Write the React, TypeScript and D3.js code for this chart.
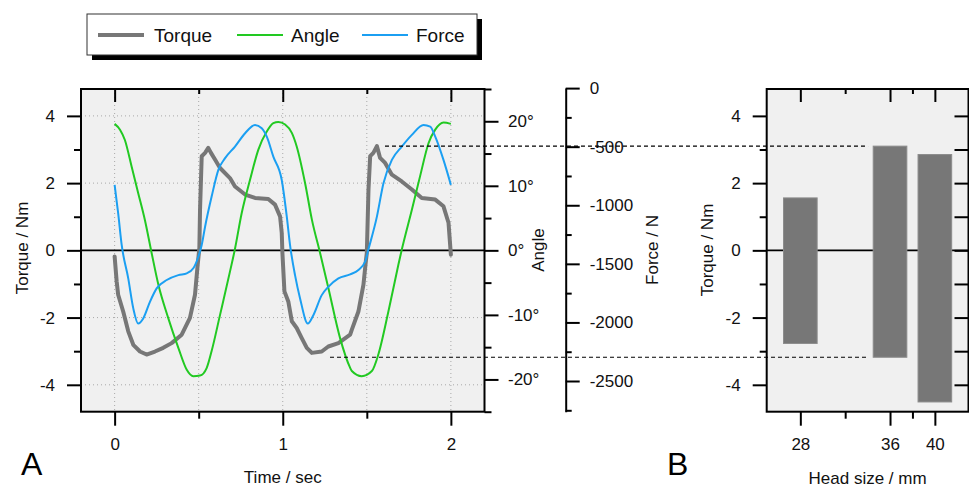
import React, { useEffect, useRef } from "react";
import * as d3 from "d3";

const W = 969;
const H = 489;
const FONT = '"Liberation Sans", Arial, Helvetica, sans-serif';

// Panel A: time series of one recorded motion (two cycles)
const torqueTime = [0, 0.012, 0.021, 0.051, 0.081, 0.111, 0.151, 0.19, 0.24, 0.289, 0.339, 0.399, 0.448, 0.478, 0.494, 0.504, 0.508, 0.518, 0.538, 0.557, 0.573, 0.597, 0.627, 0.686, 0.716, 0.776, 0.835, 0.914, 0.954, 0.984, 0.994, 0.998, 1.01, 1.033, 1.054, 1.083, 1.113, 1.143, 1.173, 1.232, 1.271, 1.331, 1.401, 1.411, 1.45, 1.48, 1.494, 1.5, 1.51, 1.52, 1.539, 1.56, 1.579, 1.609, 1.649, 1.708, 1.768, 1.827, 1.907, 1.956, 1.986, 2.0];
const torqueValues = [-0.18, -0.92, -1.32, -1.82, -2.41, -2.81, -3.01, -3.1, -3.01, -2.9, -2.76, -2.51, -2.01, -1.32, -0.43, 0.07, 1.21, 2.8, 2.9, 3.05, 2.9, 2.7, 2.45, 2.15, 1.9, 1.66, 1.56, 1.53, 1.36, 1.01, 0.52, -0.08, -1.22, -1.52, -2.11, -2.31, -2.61, -2.9, -3.05, -3.01, -2.86, -2.76, -2.51, -2.36, -1.82, -1.02, -0.33, -0.08, 1.81, 2.8, 2.9, 3.1, 2.75, 2.6, 2.25, 2.05, 1.81, 1.56, 1.51, 1.31, 0.82, -0.13];

const angleTime = [0, 0.032, 0.061, 0.101, 0.14, 0.18, 0.22, 0.26, 0.319, 0.379, 0.429, 0.468, 0.508, 0.548, 0.577, 0.627, 0.686, 0.714, 0.756, 0.805, 0.855, 0.905, 0.944, 0.974, 1.014, 1.054, 1.083, 1.133, 1.173, 1.222, 1.271, 1.341, 1.401, 1.411, 1.47, 1.53, 1.569, 1.629, 1.688, 1.707, 1.768, 1.817, 1.867, 1.907, 1.956, 2.0];
const angleValues = [19.6, 18.7, 17.1, 13.0, 8.9, 4.7, -0.4, -5.3, -10.5, -15.1, -18.5, -19.5, -19.4, -18.2, -15.6, -10.0, -3.3, 0, 5.8, 10.9, 15.6, 18.4, 19.7, 19.9, 19.5, 18.2, 16.1, 10.4, 4.8, -0.4, -5.8, -13.6, -18.2, -18.7, -19.5, -18.7, -16.1, -9.4, -2.2, 0, 6.3, 11.5, 16.6, 18.7, 19.8, 19.6];

const forceTime = [0, 0.021, 0.042, 0.081, 0.111, 0.14, 0.17, 0.21, 0.25, 0.31, 0.379, 0.429, 0.468, 0.498, 0.518, 0.538, 0.577, 0.617, 0.657, 0.716, 0.776, 0.835, 0.875, 0.905, 0.944, 0.994, 1.024, 1.043, 1.073, 1.103, 1.149, 1.182, 1.232, 1.271, 1.331, 1.401, 1.45, 1.49, 1.509, 1.56, 1.599, 1.649, 1.708, 1.768, 1.837, 1.877, 1.907, 1.956, 2.0];
const forceValues = [-826, -1068, -1339, -1624, -1880, -2009, -1966, -1824, -1709, -1638, -1596, -1581, -1538, -1439, -1339, -1183, -926, -698, -598, -499, -385, -314, -342, -414, -585, -784, -1097, -1336, -1596, -1795, -2009, -1938, -1767, -1696, -1624, -1590, -1553, -1482, -1380, -1097, -812, -613, -499, -399, -314, -328, -414, -613, -826];

// Panel B: torque range per head size
const headSizes = [28, 36, 40];
const torqueMax = [1.56, 3.1, 2.85];
const torqueMin = [-2.77, -3.18, -4.51];

// Tick values
const torqueMajor = [-4, -2, 0, 2, 4];
const torqueMinor = [-3, -1, 1, 3];
const timeMajor = [0, 1, 2];
const timeMinor = [0.5, 1.5];
const angleMajor = [-20, -10, 0, 10, 20];
const angleMinor = [-25, -15, -5, 5, 15, 25];
const forceMajor = [0, -500, -1000, -1500, -2000, -2500];
const forceMinor = [-250, -750, -1250, -1750, -2250, -2750];
const headMajor = [28, 36, 40];
const headMinor = [32, 38];

const seriesNames = ["Torque", "Angle", "Force"];
const seriesColors = ["#777777", "#22c922", "#1b9ff2"];

// Reference marks linking the second cycle to the 36 mm range
const refStartTime = [1.608, 1.281];
const refEndHead = 34.04;

// plain hyphen-minus labels
const plain = (d: any) => String(d);

export default function App() {
  const ref = useRef<SVGSVGElement>(null);

  useEffect(() => {
    const svg = d3.select(ref.current);
    svg.selectAll("*").remove();

    const A = { l: 81, r: 484.5, t: 89, b: 411.7 };
    const B = { l: 766.7, r: 968.5, t: 89, b: 411.7 };

    const xA = d3.scaleLinear().domain([-0.2, 2.2]).range([A.l, A.r]);
    const yT = d3.scaleLinear().domain([-4.8, 4.8]).range([A.b, A.t]);
    const yAng = d3.scaleLinear().domain([-25, 25]).range([A.b, A.t]);
    const yF = d3.scaleLinear().domain([-2762, 0]).range([A.b, 88.1]);
    const forceAxisX = 565.7;
    const xB = d3.scaleLinear().domain([25, 43]).range([B.l, B.r]);
    const yB = d3.scaleLinear().domain([-4.8, 4.8]).range([B.b, B.t]);

    const drawAxis = (
      x: number,
      y: number,
      gen: any,
      labels: boolean,
      keepDomain = false
    ) => {
      const g = svg.append("g").attr("transform", `translate(${x},${y})`).call(gen);
      g.attr("font-family", FONT).attr("font-size", 17);
      if (!keepDomain) g.select(".domain").remove();
      else g.select(".domain").attr("stroke", "#000").attr("stroke-width", 2);
      g.selectAll(".tick line").attr("stroke", "#000").attr("stroke-width", 2);
      if (!labels) g.selectAll(".tick text").remove();
      else g.selectAll(".tick text").attr("fill", "#111");
      return g;
    };

    // ---------- Panel A ----------
    svg.append("rect").attr("x", A.l).attr("y", A.t).attr("width", A.r - A.l).attr("height", A.b - A.t).attr("fill", "#f0f0f0");

    const grid = svg.append("g").attr("stroke", "#a8a8a8").attr("stroke-width", 1).attr("stroke-dasharray", "1,3");
    grid.selectAll("line.h").data(torqueMajor.filter((d) => d !== 0)).join("line")
      .attr("x1", A.l).attr("x2", A.r).attr("y1", (d) => yT(d)).attr("y2", (d) => yT(d));
    grid.selectAll("line.v").data([...timeMajor, ...timeMinor]).join("line")
      .attr("x1", (d) => xA(d)).attr("x2", (d) => xA(d)).attr("y1", A.t).attr("y2", A.b);

    svg.append("line").attr("x1", A.l).attr("x2", A.r).attr("y1", yT(0)).attr("y2", yT(0)).attr("stroke", "#000").attr("stroke-width", 1.6);

    const torqueLine = d3.line<number>().x((_, i) => xA(torqueTime[i])).y((d) => yT(d));
    const angleLine = d3.line<number>().x((_, i) => xA(angleTime[i])).y((d) => yAng(d)).curve(d3.curveMonotoneX);
    const forceLine = d3.line<number>().x((_, i) => xA(forceTime[i])).y((d) => yF(d)).curve(d3.curveMonotoneX);

    svg.append("path").attr("d", torqueLine(torqueValues)).attr("fill", "none").attr("stroke", seriesColors[0]).attr("stroke-width", 4).attr("stroke-linejoin", "round").attr("stroke-linecap", "round");
    svg.append("path").attr("d", angleLine(angleValues)).attr("fill", "none").attr("stroke", seriesColors[1]).attr("stroke-width", 2);
    svg.append("path").attr("d", forceLine(forceValues)).attr("fill", "none").attr("stroke", seriesColors[2]).attr("stroke-width", 2);

    svg.append("rect").attr("x", A.l).attr("y", A.t).attr("width", A.r - A.l).attr("height", A.b - A.t).attr("fill", "none").attr("stroke", "#000").attr("stroke-width", 2);

    // left torque axis
    drawAxis(A.l, 0, d3.axisLeft(yT).tickValues(torqueMajor).tickSize(14).tickPadding(12).tickFormat(plain), true);
    drawAxis(A.l, 0, d3.axisLeft(yT).tickValues(torqueMinor).tickSize(7), false);
    // bottom time axis
    drawAxis(0, A.b, d3.axisBottom(xA).tickValues(timeMajor).tickSize(14).tickPadding(12).tickFormat(plain), true);
    drawAxis(0, A.b, d3.axisBottom(xA).tickValues(timeMinor).tickSize(7), false);
    // top inward ticks
    drawAxis(0, A.t, d3.axisBottom(xA).tickValues(timeMajor).tickSize(13), false);
    drawAxis(0, A.t, d3.axisBottom(xA).tickValues(timeMinor).tickSize(5), false);
    // angle axis
    drawAxis(A.r, 0, d3.axisRight(yAng).tickValues(angleMajor).tickSize(14).tickPadding(9.5).tickFormat((d: any) => `${d}°`), true);
    drawAxis(A.r, 0, d3.axisRight(yAng).tickValues(angleMinor).tickSize(7), false);
    // force axis
    drawAxis(forceAxisX, 0, d3.axisRight(yF).tickValues(forceMajor).tickSize(14).tickSizeOuter(0).tickPadding(10).tickFormat(plain), true, true);
    drawAxis(forceAxisX, 0, d3.axisRight(yF).tickValues(forceMinor).tickSize(6), false);

    const title = (text: string, x: number, y: number, rot: boolean, size = 17) => {
      svg.append("text")
        .attr("transform", rot ? `translate(${x},${y}) rotate(-90)` : `translate(${x},${y})`)
        .attr("text-anchor", "middle")
        .attr("font-family", FONT)
        .attr("font-size", size)
        .attr("fill", "#111")
        .text(text);
    };
    title("Torque / Nm", 28, 248, true);
    title("Time / sec", xA(1), 483, false);
    title("Angle", 544, 250, true);
    title("Force / N", 658, 250, true);

    svg.append("text").attr("x", 21).attr("y", 475).attr("font-family", FONT).attr("font-size", 32).attr("fill", "#000").text("A");

    // ---------- Panel B ----------
    svg.append("rect").attr("x", B.l).attr("y", B.t).attr("width", B.r - B.l).attr("height", B.b - B.t).attr("fill", "#f0f0f0");
    svg.append("line").attr("x1", B.l).attr("x2", B.r).attr("y1", yB(0)).attr("y2", yB(0)).attr("stroke", "#000").attr("stroke-width", 1.6);

    svg.append("g").selectAll("rect").data(headSizes).join("rect")
      .attr("x", (d) => xB(d - 1.5))
      .attr("width", (d) => xB(d + 1.5) - xB(d - 1.5))
      .attr("y", (_, i) => yB(torqueMax[i]))
      .attr("height", (_, i) => yB(torqueMin[i]) - yB(torqueMax[i]))
      .attr("fill", "#777777")
      .attr("stroke", "#8c8c8c")
      .attr("stroke-width", 1);

    svg.append("rect").attr("x", B.l).attr("y", B.t).attr("width", B.r - B.l).attr("height", B.b - B.t).attr("fill", "none").attr("stroke", "#000").attr("stroke-width", 2);

    drawAxis(B.l, 0, d3.axisLeft(yB).tickValues(torqueMajor).tickSize(14).tickPadding(12).tickFormat(plain), true);
    drawAxis(B.l, 0, d3.axisLeft(yB).tickValues(torqueMinor).tickSize(7), false);
    drawAxis(B.r, 0, d3.axisLeft(yB).tickValues([...torqueMajor, ...torqueMinor]).tickSize(14), false);
    drawAxis(0, B.b, d3.axisBottom(xB).tickValues(headMajor).tickSize(14).tickPadding(12).tickFormat(plain), true);
    drawAxis(0, B.b, d3.axisBottom(xB).tickValues(headMinor).tickSize(7), false);
    drawAxis(0, B.t, d3.axisBottom(xB).tickValues(headMajor).tickSize(13), false);
    drawAxis(0, B.t, d3.axisBottom(xB).tickValues(headMinor).tickSize(5), false);

    title("Torque / Nm", 713, 250, true);
    title("Head size / mm", (B.l + B.r) / 2, 484, false);
    svg.append("text").attr("x", 667).attr("y", 475).attr("font-family", FONT).attr("font-size", 32).attr("fill", "#000").text("B");

    // dashed reference lines at the 36 mm extremes
    const refLevels = [torqueMax[1], torqueMin[1]];
    svg.append("g").selectAll("line").data(refLevels).join("line")
      .attr("x1", (_, i) => xA(refStartTime[i]))
      .attr("x2", xB(refEndHead))
      .attr("y1", (d) => yT(d))
      .attr("y2", (d) => yT(d))
      .attr("stroke", "#000")
      .attr("stroke-width", 1.2)
      .attr("stroke-dasharray", "4,3");

    // ---------- Legend ----------
    const lg = svg.append("g");
    lg.append("rect").attr("x", 92).attr("y", 19).attr("width", 390).attr("height", 41).attr("fill", "#000");
    lg.append("rect").attr("x", 87).attr("y", 14).attr("width", 390).attr("height", 41).attr("fill", "#fff").attr("stroke", "#333").attr("stroke-width", 1);
    const lineX = [98, 237, 362];
    const textX = [154, 291, 416];
    const widths = [4, 2, 2];
    seriesNames.forEach((name, i) => {
      lg.append("line").attr("x1", lineX[i]).attr("x2", lineX[i] + 46).attr("y1", 35).attr("y2", 35)
        .attr("stroke", seriesColors[i]).attr("stroke-width", widths[i]);
      lg.append("text").attr("x", textX[i]).attr("y", 41.5).attr("font-family", FONT).attr("font-size", 19).attr("fill", "#111").text(name);
    });
  }, []);

  return (
    <svg
      ref={ref}
      width={W}
      height={H}
      style={{ position: "absolute", left: 0, top: 0, display: "block", background: "#fff" }}
    />
  );
}
